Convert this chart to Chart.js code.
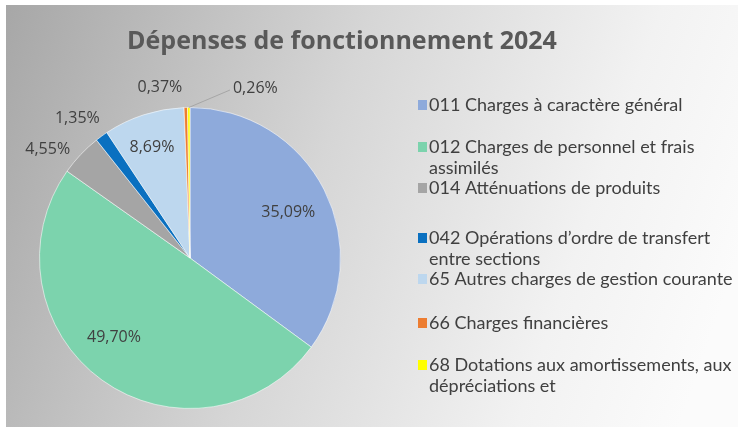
<!DOCTYPE html>
<html>
<head>
<meta charset="utf-8">
<script src="https://cdn.jsdelivr.net/npm/chart.js@4.4.1/dist/chart.umd.min.js"></script>
<style>
  html, body { margin: 0; padding: 0; background: #fff; overflow: hidden; }
  canvas { display: block; }
</style>
</head>
<body>
<canvas id="depensesChart" width="738" height="427"></canvas>
<script>
// Data.
const chartTitle = 'Dépenses de fonctionnement 2024';
const categories = [
  ['011 Charges à caractère général'],
  ['012 Charges de personnel et frais', 'assimilés'],
  ['014 Atténuations de produits'],
  ['042 Opérations d’ordre de transfert', 'entre sections'],
  ['65 Autres charges de gestion courante'],
  ['66 Charges financières'],
  ['68 Dotations aux amortissements, aux', 'dépréciations et']
];
const shares = [35.09, 49.70, 4.55, 1.35, 8.69, 0.37, 0.26];
const sliceColors = ['#8eaadb', '#7cd3ad', '#a5a5a5', '#0a70c0', '#bdd7ee', '#ed7d31', '#ffff00'];

// Label placement tweaks (angle nudge in degrees, distance as fraction of radius).
const labelNudge = [[2, 0.72], [8, 0.73], [-6, 1.19], [-3, 1.19], [-1, 0.78], [-8.4, 1.15], [21.5, 1.21]];
// Legend rows (first line centre) and line height.
const legendRowY = [105, 147, 188, 238, 279, 323, 365];
const legendLineH = 21;

function pct(v) {
  return v.toFixed(2).replace('.', ',') + '%';
}

const backgroundPlugin = {
  id: 'bgPanel',
  beforeDraw(chart) {
    const ctx = chart.ctx;
    ctx.save();
    ctx.fillStyle = '#ffffff';
    ctx.fillRect(0, 0, chart.width, chart.height);
    const g = ctx.createLinearGradient(6, 5, 738, 260);
    g.addColorStop(0, '#a7a7a7');
    g.addColorStop(0.45, '#d6d6d6');
    g.addColorStop(0.8, '#f2f2f2');
    g.addColorStop(1, '#fbfbfb');
    ctx.fillStyle = g;
    ctx.fillRect(6, 5, chart.width - 6, chart.height - 5);
    ctx.restore();
  }
};

const decorPlugin = {
  id: 'decor',
  afterDatasetsDraw(chart) {
    const ctx = chart.ctx;
    const meta = chart.getDatasetMeta(0);
    ctx.save();

    // Title
    ctx.fillStyle = '#595959';
    ctx.font = 'bold 25px "Open Sans", sans-serif';
    ctx.textAlign = 'center';
    ctx.textBaseline = 'middle';
    ctx.fillText(chartTitle, 342, 42);

    // Percentage labels
    ctx.font = '16px "Open Sans", sans-serif';
    ctx.fillStyle = '#404040';
    meta.data.forEach(function (arc, i) {
      const p = arc.getProps(['x', 'y', 'startAngle', 'endAngle', 'outerRadius'], true);
      const mid = (p.startAngle + p.endAngle) / 2;
      const a = mid + labelNudge[i][0] * Math.PI / 180;
      const d = p.outerRadius * labelNudge[i][1];
      const lx = p.x + Math.cos(a) * d;
      const ly = p.y + Math.sin(a) * d;
      const txt = pct(shares[i]);
      ctx.fillText(txt, lx, ly);

      // Leader line for the thin slice labelled off to the side.
      if (labelNudge[i][1] > 1.2) {
        const w = ctx.measureText(txt).width;
        ctx.strokeStyle = '#a6a6a6';
        ctx.lineWidth = 1;
        ctx.beginPath();
        ctx.moveTo(p.x + Math.cos(mid) * p.outerRadius, p.y + Math.sin(mid) * p.outerRadius);
        ctx.lineTo(lx - w / 2 - 3, ly + 2);
        ctx.stroke();
      }
    });

    // Legend
    ctx.font = '18px Lato, sans-serif';
    ctx.textAlign = 'left';
    categories.forEach(function (lines, i) {
      const y0 = legendRowY[i];
      ctx.fillStyle = sliceColors[i];
      ctx.fillRect(418, y0 - 5, 9, 10);
      ctx.fillStyle = '#404040';
      lines.forEach(function (line, k) {
        ctx.fillText(line, 429, y0 + k * legendLineH);
      });
    });
    ctx.restore();
  }
};

const ctx = document.getElementById('depensesChart');
new Chart(ctx, {
  type: 'pie',
  data: {
    labels: categories,
    datasets: [{
      data: shares,
      backgroundColor: sliceColors,
      borderColor: 'rgba(255,255,255,0.55)',
      borderWidth: 1
    }]
  },
  options: {
    responsive: false,
    animation: false,
    layout: { padding: { left: 39, right: 397, top: 107, bottom: 18 } },
    plugins: {
      legend: { display: false },
      title: { display: false },
      tooltip: { enabled: false }
    }
  },
  plugins: [backgroundPlugin, decorPlugin]
});
</script>
</body>
</html>
